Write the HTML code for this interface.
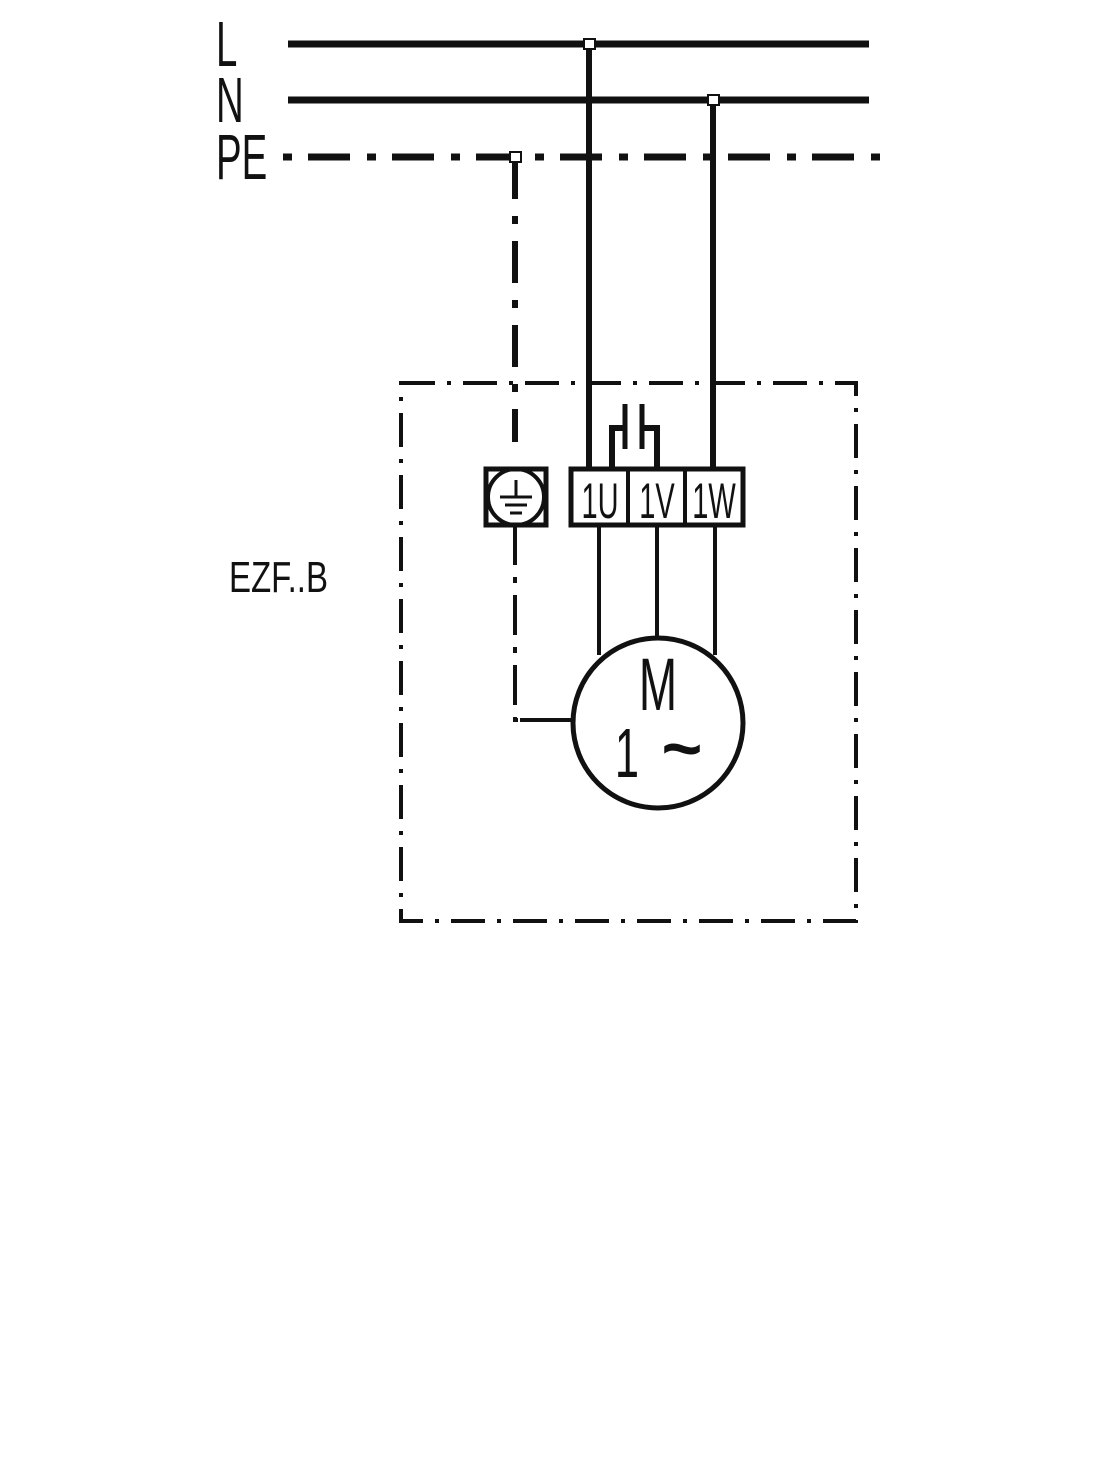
<!DOCTYPE html>
<html><head><style>body{margin:0;background:#fff}text{font-family:"Liberation Sans",sans-serif}</style></head><body>
<svg width="1100" height="1459" viewBox="0 0 1100 1459" xmlns="http://www.w3.org/2000/svg">
<rect width="1100" height="1459" fill="#fff"/>
<g fill="#111">
<text transform="translate(216,66) scale(0.6,1)" font-size="64">L</text>
<text transform="translate(216,122) scale(0.6,1)" font-size="64">N</text>
<text transform="translate(216,179) scale(0.6,1)" font-size="64">PE</text>
<text transform="translate(229,592) scale(0.75,1)" font-size="44">EZF..B</text>
<text transform="translate(658,710) scale(0.62,1)" font-size="74" text-anchor="middle">M</text>
<text transform="translate(627,777) scale(0.62,1)" font-size="70" text-anchor="middle">1</text>
<text x="682" y="772" font-size="70" text-anchor="middle" font-weight="bold">~</text>
<text transform="translate(600,518) scale(0.58,1)" font-size="50" text-anchor="middle">1U</text>
<text transform="translate(657,518) scale(0.58,1)" font-size="50" text-anchor="middle">1V</text>
<text transform="translate(714,518) scale(0.58,1)" font-size="50" text-anchor="middle">1W</text>
</g>
<g stroke="#111" fill="none">
<line x1="288" y1="44" x2="869" y2="44" stroke-width="7"/>
<line x1="288" y1="100" x2="869" y2="100" stroke-width="7"/>
<line x1="283" y1="157" x2="883" y2="157" stroke-width="7" stroke-dasharray="9 16 42 17"/>
<line x1="589" y1="44" x2="589" y2="467" stroke-width="6"/>
<line x1="713" y1="100" x2="713" y2="467" stroke-width="6"/>
<line x1="515" y1="157" x2="515" y2="442" stroke-width="6" stroke-dasharray="42 17 8 17"/>
<rect x="584" y="39" width="11" height="10" stroke-width="2" fill="#fff"/>
<rect x="708" y="95" width="11" height="10" stroke-width="2" fill="#fff"/>
<rect x="510" y="152" width="11" height="10" stroke-width="2" fill="#fff"/>
<rect x="401" y="383" width="455" height="538" stroke-width="4" stroke-dasharray="34 12 4 12"/>
<rect x="486" y="469" width="60" height="56" stroke-width="5"/>
<circle cx="516" cy="497" r="28" stroke-width="4"/>
<line x1="516" y1="480" x2="516" y2="496" stroke-width="3"/>
<line x1="500" y1="497" x2="532" y2="497" stroke-width="3"/>
<line x1="505" y1="505" x2="527" y2="505" stroke-width="3"/>
<line x1="510" y1="513" x2="522" y2="513" stroke-width="3"/>
<rect x="571" y="469" width="172" height="56" stroke-width="5"/>
<line x1="628" y1="469" x2="628" y2="525" stroke-width="4"/>
<line x1="685" y1="469" x2="685" y2="525" stroke-width="4"/>
<line x1="625" y1="404" x2="625" y2="449" stroke-width="5"/>
<line x1="642" y1="404" x2="642" y2="449" stroke-width="5"/>
<polyline points="612,467 612,428 625,428" stroke-width="6"/>
<polyline points="642,428 657,428 657,467" stroke-width="6"/>
<line x1="599" y1="525" x2="599" y2="655" stroke-width="4"/>
<line x1="657" y1="525" x2="657" y2="638" stroke-width="4"/>
<line x1="715" y1="525" x2="715" y2="655" stroke-width="4"/>
<circle cx="658" cy="723" r="85" stroke-width="5"/>
<polyline points="515,525 515,720 573,720" stroke-width="4" stroke-dasharray="40 12 6 12"/>
<line x1="520" y1="720" x2="573" y2="720" stroke-width="4"/>
</g>
</svg>
</body></html>
